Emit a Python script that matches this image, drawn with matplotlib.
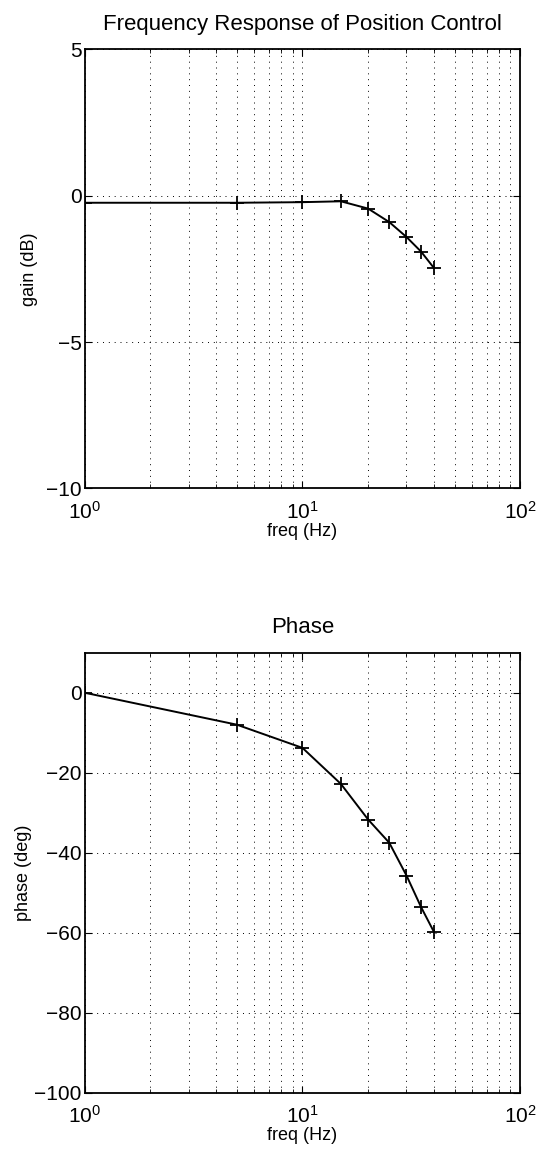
import matplotlib
matplotlib.use("Agg")
import matplotlib.pyplot as plt
from matplotlib.ticker import LogLocator, FixedLocator, NullFormatter

plt.rcParams["font.family"] = ["Liberation Sans", "DejaVu Sans"]
plt.rcParams["mathtext.fontset"] = "custom"
plt.rcParams["mathtext.rm"] = "Liberation Sans"
plt.rcParams["mathtext.it"] = "Liberation Sans"
plt.rcParams["mathtext.default"] = "regular"

# data
freq = [1, 5, 10, 15, 20, 25, 30, 35, 40]
gain_db = [-0.24, -0.24, -0.22, -0.19, -0.44, -0.90, -1.41, -1.91, -2.46]
phase_deg = [0.0, -8.0, -13.8, -22.8, -31.7, -37.5, -45.7, -53.6, -59.7]

gain_ticks = [-10, -5, 0, 5]
phase_ticks = [-100, -80, -60, -40, -20, 0]


def style_axes(ax, ylim, yticks):
    ax.set_xscale("log")
    ax.set_xlim(1, 100)
    ax.set_ylim(*ylim)
    ax.yaxis.set_major_locator(FixedLocator(yticks))
    ax.xaxis.set_major_locator(LogLocator(base=10, numticks=5))
    ax.xaxis.set_minor_locator(LogLocator(base=10, subs=range(2, 10), numticks=20))
    ax.xaxis.set_minor_formatter(NullFormatter())
    ax.grid(True, which="major", linestyle=(0, (1, 5)), color="black", linewidth=0.7)
    ax.grid(True, which="minor", axis="x", linestyle=(0, (1, 5)), color="black", linewidth=0.7)
    ax.tick_params(which="both", direction="in", top=True, right=True, labelsize=15)
    ax.tick_params(which="major", length=5)
    ax.tick_params(which="minor", length=3)
    ax.tick_params(axis="x", which="major", pad=9)
    ax.tick_params(axis="y", which="major", pad=2)
    for s in ax.spines.values():
        s.set_linewidth(1.3)


fig = plt.figure(figsize=(5.47, 11.55), dpi=100)
ax1 = fig.add_axes([0.1545, 0.5772, 0.797, 0.380])
ax2 = fig.add_axes([0.1545, 0.0539, 0.797, 0.381])

ax1.plot(freq, gain_db, color="black", marker="+", markersize=10,
         markeredgewidth=1.3, linewidth=1.4)
style_axes(ax1, (-10, 5), gain_ticks)
ax1.set_title("Frequency Response of Position Control", fontsize=16, pad=14)
ax1.set_xlabel("freq (Hz)", fontsize=13, labelpad=0)
ax1.set_ylabel("gain (dB)", fontsize=13, labelpad=6)

ax2.plot(freq, phase_deg, color="black", marker="+", markersize=10,
         markeredgewidth=1.3, linewidth=1.4)
style_axes(ax2, (-100, 10), phase_ticks)
ax2.set_title("Phase", fontsize=16, pad=14)
ax2.set_xlabel("freq (Hz)", fontsize=13, labelpad=0)
ax2.set_ylabel("phase (deg)", fontsize=13, labelpad=2)

fig.savefig("out.png", dpi=100)
